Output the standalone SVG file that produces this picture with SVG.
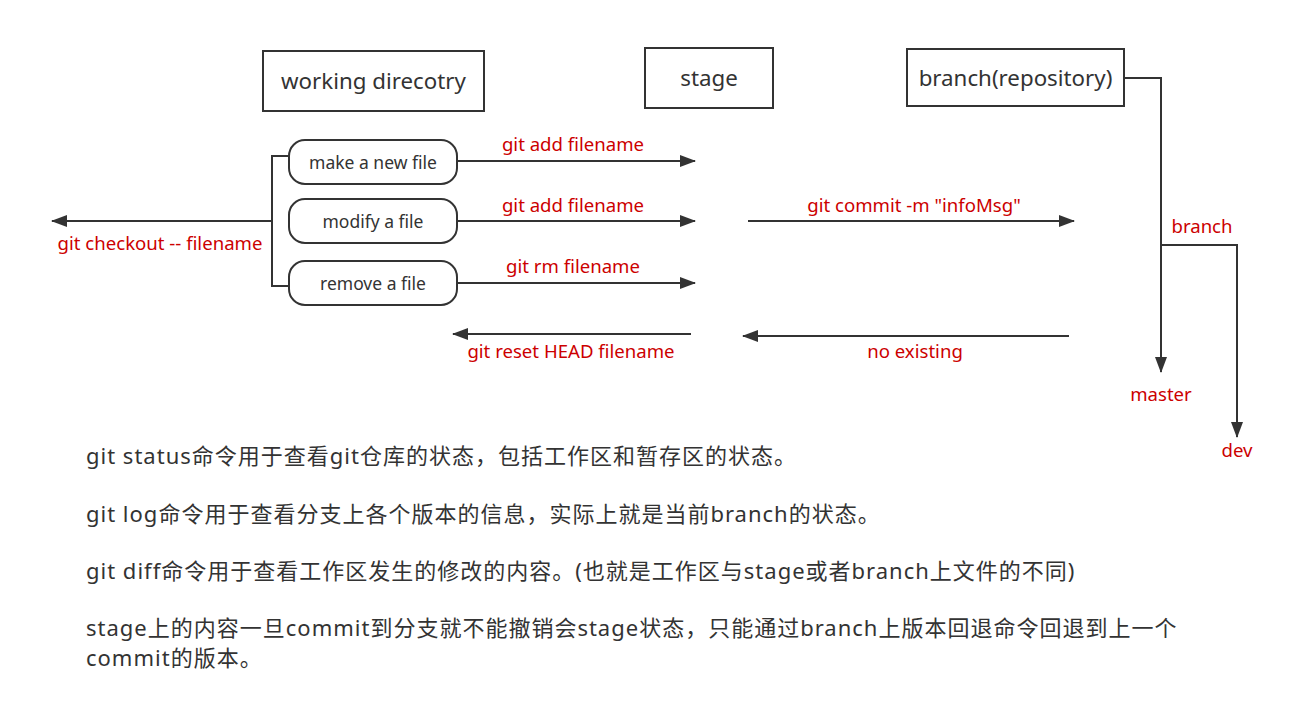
<svg xmlns="http://www.w3.org/2000/svg" width="1298" height="719" viewBox="0 0 1298 719">
<style>
.box{fill:#fff;stroke:#333;stroke-width:2}
.rbox{fill:#fff;stroke:#333;stroke-width:2}
.t{font-family:"Noto Sans","Noto Sans CJK SC",sans-serif;fill:#333;text-anchor:middle}
.lbl{font-family:"Noto Sans","Noto Sans CJK SC",sans-serif;fill:#cc0000;font-size:18.6px;text-anchor:middle}
.ln{fill:none;stroke:#333;stroke-width:2}
.note{font-family:"Noto Sans","Noto Sans CJK SC",sans-serif;fill:#333;font-size:22px;letter-spacing:1px}
</style>
<defs>
<marker id="ah" markerUnits="userSpaceOnUse" markerWidth="16" markerHeight="12" refX="15" refY="6" orient="auto">
<path d="M0,0 L16,6 L0,12 Z" fill="#333"/>
</marker>
</defs>
<rect width="1298" height="719" fill="#fff"/>
<g id="working">
<rect class="box" x="263" y="51" width="221" height="60"/>
<text class="t" x="373.5" y="89" font-size="22.3">working direcotry</text>
</g>
<g id="stage">
<rect class="box" x="645" y="48" width="128" height="60"/>
<text class="t" x="709" y="86" font-size="22.3">stage</text>
</g>
<g id="branch">
<rect class="box" x="907" y="49" width="217" height="57"/>
<text class="t" x="1015.5" y="86" font-size="22.3">branch(repository)</text>
</g>
<g id="newfile">
<rect class="rbox" x="289" y="140" width="168" height="44" rx="16"/>
<text class="t" x="373" y="168.5" font-size="17.5">make a new file</text>
</g>
<g id="modify">
<rect class="rbox" x="289" y="199" width="168" height="44" rx="16"/>
<text class="t" x="373" y="227.5" font-size="17.5">modify a file</text>
</g>
<g id="remove">
<rect class="rbox" x="289" y="261" width="168" height="44" rx="16"/>
<text class="t" x="373" y="289.5" font-size="17.5">remove a file</text>
</g>
<g id="connectors">
<path class="ln" d="M289,156 H272 V286 H289"/>
<path class="ln" d="M272,221 H52" marker-end="url(#ah)"/>
<path class="ln" d="M457,161 H695" marker-end="url(#ah)"/>
<path class="ln" d="M457,221 H695" marker-end="url(#ah)"/>
<path class="ln" d="M457,283 H695" marker-end="url(#ah)"/>
<path class="ln" d="M748,221 H1074" marker-end="url(#ah)"/>
<path class="ln" d="M691,334 H453" marker-end="url(#ah)"/>
<path class="ln" d="M1069,336 H743" marker-end="url(#ah)"/>
<path class="ln" d="M1124,78 H1161 V372" marker-end="url(#ah)"/>
<path class="ln" d="M1161,245 H1237 V437" marker-end="url(#ah)"/>
<text class="lbl" x="160" y="250">git checkout -- filename</text>
<text class="lbl" x="573" y="151">git add filename</text>
<text class="lbl" x="573" y="212">git add filename</text>
<text class="lbl" x="573" y="273">git rm filename</text>
<text class="lbl" x="914" y="212">git commit -m "infoMsg"</text>
<text class="lbl" x="571" y="358">git reset HEAD filename</text>
<text class="lbl" x="915" y="358">no existing</text>
<text class="lbl" x="1202" y="233">branch</text>
<text class="lbl" x="1161" y="401">master</text>
<text class="lbl" x="1237" y="457">dev</text>
</g>
<g id="notes">
<text class="note" x="86" y="464">git status命令用于查看git仓库的状态，包括工作区和暂存区的状态。</text>
<text class="note" x="86" y="522">git log命令用于查看分支上各个版本的信息，实际上就是当前branch的状态。</text>
<text class="note" x="86" y="579">git diff命令用于查看工作区发生的修改的内容。(也就是工作区与stage或者branch上文件的不同)</text>
<text class="note" x="86" y="636">stage上的内容一旦commit到分支就不能撤销会stage状态，只能通过branch上版本回退命令回退到上一个</text>
<text class="note" x="86" y="666">commit的版本。</text>
</g>
</svg>
